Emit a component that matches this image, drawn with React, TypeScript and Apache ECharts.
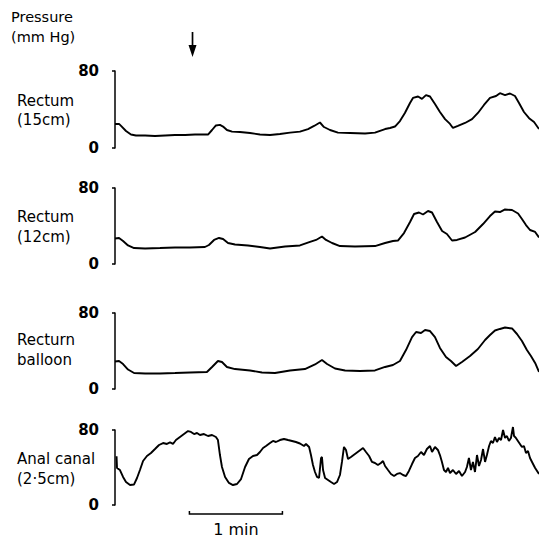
import React, { useEffect, useRef } from "react";
import * as echarts from "echarts";

// time in seconds from start of recording, pressure in mm Hg
const rectum15: [number, number][] = [
  [0, 25], [2.6, 25], [3.9, 23], [7.1, 17.7], [10.3, 14], [13.5, 13], [19.4, 13], [25.8, 12.5],
  [32.3, 13], [38.7, 13.5], [45.2, 13.5], [51.6, 14], [58, 14], [60, 14], [62.6, 18.7], [65.1, 23.4],
  [67.7, 24], [69.7, 22.3], [72.2, 18.7], [75.5, 17], [80.6, 16.6], [87.1, 15.6], [93.5, 14], [100, 13.5],
  [106.4, 14.5], [112.9, 16], [119.3, 17], [124.5, 19.7], [128.4, 22.9], [132.2, 26.5], [134.8, 21.8],
  [138.7, 18.7], [143.8, 16], [151.6, 15.6], [161.3, 15], [167.7, 16], [174.2, 19.7], [177.4, 20.8],
  [180.6, 22.3], [183.8, 28], [187, 36.4], [190.3, 46.8], [192.2, 52], [195.5, 53.5], [198, 51],
  [200.6, 55], [203.2, 53.5], [206.4, 45.7], [209.6, 37.4], [212.9, 30], [216.1, 25], [218, 20.8],
  [221.2, 22.9], [225.8, 26], [230.3, 30], [234.1, 36.4], [238, 44.7], [241.9, 52], [245.8, 54],
  [248.3, 57], [251.6, 55], [254.8, 56.6], [258, 54], [260.6, 46.8], [263.8, 37.4], [267.1, 31],
  [270.3, 27], [273.5, 19.7],
];

const rectum12: [number, number][] = [
  [0, 26.8], [2.6, 27.4], [5.2, 24.2], [8.4, 19.5], [12.3, 16.8], [19.4, 16.3], [29, 16.8], [38.7, 17.4],
  [48.4, 17.4], [58, 17.9], [60.6, 20], [63.9, 25.3], [67.1, 27.4], [69.7, 26.3], [72.9, 22.1],
  [77.4, 20.5], [85.8, 19.5], [93.5, 17.9], [100, 16.3], [109.7, 18.4], [119.3, 19.5], [125.8, 23.2],
  [129.7, 25.3], [133.5, 29], [136.1, 25.3], [140, 22.1], [145.1, 18.9], [154.8, 18.4], [167.7, 18.9],
  [174.2, 22.1], [179.3, 24.2], [182.5, 24.7], [186.4, 32.6], [190.3, 44.2], [192.9, 52.6],
  [196.1, 54.2], [198.7, 52.1], [201.9, 55.8], [204.5, 54.2], [207.7, 44.2], [211, 34.7], [214.1, 31.6],
  [217.4, 24.7], [220.6, 25.3], [225.8, 27.9], [232.3, 33.7], [237.4, 42.1], [241.9, 50.5],
  [245.1, 55.3], [248.3, 54.7], [251.6, 57.4], [256.1, 56.8], [260, 53.2], [262.5, 47.4], [265.1, 41],
  [267.7, 35.8], [271, 33.7], [273.5, 27.9],
];

const rectalBalloon: [number, number][] = [
  [0, 29], [2.6, 29.5], [5.2, 26.3], [8.4, 20.5], [12.3, 16.8], [19.4, 16.3], [29, 16.3], [38.7, 16.8],
  [48.4, 17.4], [59.3, 17.9], [62.6, 23.2], [66.4, 29.5], [69, 28.4], [72.2, 23.2], [77.4, 21],
  [87.1, 19.5], [94.8, 17.4], [103.2, 16.8], [112.9, 19.5], [122.5, 21], [129, 25.8], [133.5, 30.5],
  [136.8, 26.3], [141.9, 21.6], [148.4, 19.5], [158, 18.9], [167.7, 19.5], [174.2, 23.2], [179.3, 25.3],
  [183.8, 29.5], [187.7, 41], [191.6, 54.7], [194.2, 60], [197.4, 59], [200, 62.1], [203.2, 61],
  [206.4, 54.7], [209.6, 43.2], [213.5, 33.7], [216.7, 29.5], [220, 24.2], [223.8, 28.4], [229, 34.7],
  [234.1, 42.1], [238.7, 51.6], [241.9, 56.8], [245.1, 61.6], [248.3, 63.2], [251.6, 64.7],
  [256.1, 63.7], [259.3, 57.9], [262.5, 50.5], [265.7, 41], [268.3, 34.7], [271, 27.4], [273.5, 17.9],
];

const analCanal: [number, number][] = [
  [1.0, 52], [1.3, 39.5], [3.2, 37.3], [5.2, 29.9], [7.1, 24.5], [9.7, 21.3], [12.3, 21.9], [14.2, 28.8],
  [16.1, 37.3], [18.1, 46.9], [20.6, 52.3], [23.2, 55.5], [25.8, 59.7], [28.4, 64], [31, 66.1],
  [33.5, 65.1], [35.5, 66.7], [37.4, 65.1], [39.3, 69.3], [41.9, 72.5], [44.5, 75.7], [47.1, 78.9],
  [49, 77.9], [51, 75.7], [52.9, 76.8], [54.8, 74.7], [57.4, 75.7], [60, 73.6], [62.6, 74.7],
  [65.1, 72.5], [66.4, 69.3], [67.7, 53.3], [69, 40.5], [71, 29.9], [73.5, 23.5], [76.1, 21.3],
  [78.7, 22.4], [81.3, 27.7], [83.9, 40.5], [86.4, 49.1], [89, 52.3], [91.6, 53.3], [93.5, 56.5],
  [95.5, 60.8], [97.4, 62.9], [100, 66.1], [101.9, 68.3], [103.8, 67.2], [106.4, 69.3], [109, 70.4],
  [111.6, 69.3], [114.2, 68.3], [116.7, 67.2], [119.3, 65.6], [121.9, 62.9], [123.2, 65.1],
  [125.2, 61.9], [126.4, 53.3], [127.7, 42.7], [129, 35.2], [130.3, 29.9], [131.6, 28.8], [132.9, 50.1],
  [133.5, 51.2], [134.2, 37.3], [135.5, 28.8], [137.4, 26.7], [139.3, 24.5], [141.3, 22.4],
  [143.2, 24.5], [145.1, 32], [146.4, 45.9], [147.7, 61.9], [149, 58.7], [150.3, 49.1], [152.2, 51.2],
  [154.8, 54.4], [157.4, 57.6], [160, 60.8], [161.9, 56.5], [163.9, 52.3], [165.8, 45.9], [167.7, 44.8],
  [169.6, 42.7], [171.5, 44.8], [172.9, 46.9], [174.2, 41.6], [176.1, 37.3], [178, 33.1], [180, 30.9],
  [181.9, 33.1], [183.8, 34.1], [185.8, 32], [187.7, 30.9], [189.6, 36.3], [191.6, 43.7], [193.5, 50.1],
  [195.4, 52.3], [197.4, 56.5], [199.3, 53.3], [201.2, 59.7], [203.2, 62.9], [204.5, 56.5],
  [206.4, 61.9], [208.3, 58.7], [209.6, 53.3], [210.9, 45.9], [212.2, 37.3], [213.5, 35.2],
  [214.8, 39.5], [216.1, 34.1], [218, 37.3], [220, 33.1], [221.9, 36.3], [223.8, 30.9], [225.8, 35.2],
  [227, 40.5], [228.3, 50.1], [229.6, 37.3], [230.9, 45.9], [232.2, 35.2], [233.5, 53.3], [234.8, 41.6],
  [236.1, 48], [237.4, 59.7], [238.7, 45.9], [239.9, 53.3], [241.3, 62.9], [242.5, 68.3], [243.8, 66.1],
  [245.1, 72.5], [246.4, 67.2], [247.7, 71.5], [249, 69.3], [250.3, 80], [251.6, 71.5], [252.8, 73.6],
  [254.1, 68.3], [255.4, 71.5], [256.7, 83.2], [257.4, 73.6], [258.6, 71.5], [259.9, 68.3],
  [261.2, 65.1], [262.5, 61.9], [263.8, 62.9], [265.1, 55.5], [266.4, 57.6], [267.7, 50.1], [269, 45.9],
  [271, 39.5], [273.5, 33.1],
];

const traces = [rectum15, rectum12, rectalBalloon, analCanal];
const traceLabels: [string, string][] = [
  ["Rectum", "(15cm)"],
  ["Rectum", "(12cm)"],
  ["Recturn", "balloon"],
  ["Anal canal", "(2·5cm)"],
];
const yTicks = [0, 80];
const arrowTime = 50; // s, event marker
const scaleBar = { start: 48, end: 108, label: "1 min" };
const timeMax = 273.5;

const FONT = "DejaVu Sans";
const gridTops = [71, 188, 313, 430];
const gridHeights = [77, 76, 76, 75];
const labelCenters = [[101, 120], [217, 237], [340, 360], [459, 479]];

export default function App() {
  const ref = useRef<HTMLDivElement>(null);
  useEffect(() => {
    if (!ref.current) return;
    const chart = echarts.init(ref.current, null, { renderer: "svg" });
    const grids = traces.map((_, i) => ({
      left: 115,
      right: 0,
      top: gridTops[i],
      height: gridHeights[i],
      containLabel: false,
    }));
    const xAxes = traces.map((_, i) => ({
      type: "value",
      gridIndex: i,
      min: 0,
      max: timeMax,
      show: false,
    }));
    const yAxes = traces.map((_, i) => ({
      type: "value",
      gridIndex: i,
      min: yTicks[0],
      max: yTicks[yTicks.length - 1],
      interval: yTicks[1] - yTicks[0],
      offset: 9,
      axisLine: { show: true, lineStyle: { color: "#000", width: 1.5 } },
      axisTick: { show: true, length: 3, inside: false, lineStyle: { color: "#000", width: 1.5 } },
      axisLabel: {
        color: "#000",
        fontFamily: FONT,
        fontWeight: "bold",
        fontSize: 15,
        margin: 7,
        padding: [4, 0, 0, 0],
        showMinLabel: true,
        showMaxLabel: true,
      },
      splitLine: { show: false },
    }));
    const series = traces.map((d, i) => ({
      type: "line",
      xAxisIndex: i,
      yAxisIndex: i,
      data: d,
      symbol: "none",
      showSymbol: false,
      clip: false,
      lineStyle: { color: "#000", width: 1.9 },
      silent: true,
    }));
    chart.setOption({
      animation: false,
      backgroundColor: "#fff",
      grid: grids,
      xAxis: xAxes,
      yAxis: yAxes,
      series,
    });

    const txt = (text: string, x: number, y: number, size = 15, align = "left") => ({
      type: "text",
      x,
      y,
      style: {
        text,
        fill: "#000",
        fontFamily: FONT,
        fontSize: size,
        fontWeight: "normal",
        textAlign: align,
        textVerticalAlign: "middle",
      },
    });

    const elements: any[] = [];
    elements.push(txt("Pressure", 11, 17, 14.5));
    elements.push(txt("(mm Hg)", 11, 37, 14.5));
    traceLabels.forEach((l, i) => {
      elements.push(txt(l[0], 17, labelCenters[i][0]));
      elements.push(txt(l[1], 17, labelCenters[i][1]));
    });

    const [ax] = chart.convertToPixel({ gridIndex: 0 } as any, [arrowTime, 80]) as number[];
    elements.push({
      type: "line",
      shape: { x1: ax, y1: 32, x2: ax, y2: 48 },
      style: { stroke: "#000", lineWidth: 1.7 },
    });
    elements.push({
      type: "polygon",
      shape: { points: [[ax - 4, 45], [ax + 4, 45], [ax, 57]] },
      style: { fill: "#000" },
    });

    const [sx1, sy0] = chart.convertToPixel({ gridIndex: 3 } as any, [scaleBar.start, 0]) as number[];
    const [sx2] = chart.convertToPixel({ gridIndex: 3 } as any, [scaleBar.end, 0]) as number[];
    const by = sy0 + 9;
    elements.push({
      type: "polyline",
      shape: { points: [[sx1, by - 3], [sx1, by], [sx2, by], [sx2, by - 3]] },
      style: { stroke: "#000", lineWidth: 1.5, fill: null },
    });
    elements.push(txt(scaleBar.label, (sx1 + sx2) / 2, by + 15, 16, "center"));

    chart.setOption({ graphic: { elements } });
    return () => chart.dispose();
  }, []);
  return (
    <div
      ref={ref}
      style={{ position: "absolute", left: 0, top: 0, width: 539, height: 538, background: "#fff" }}
    />
  );
}
